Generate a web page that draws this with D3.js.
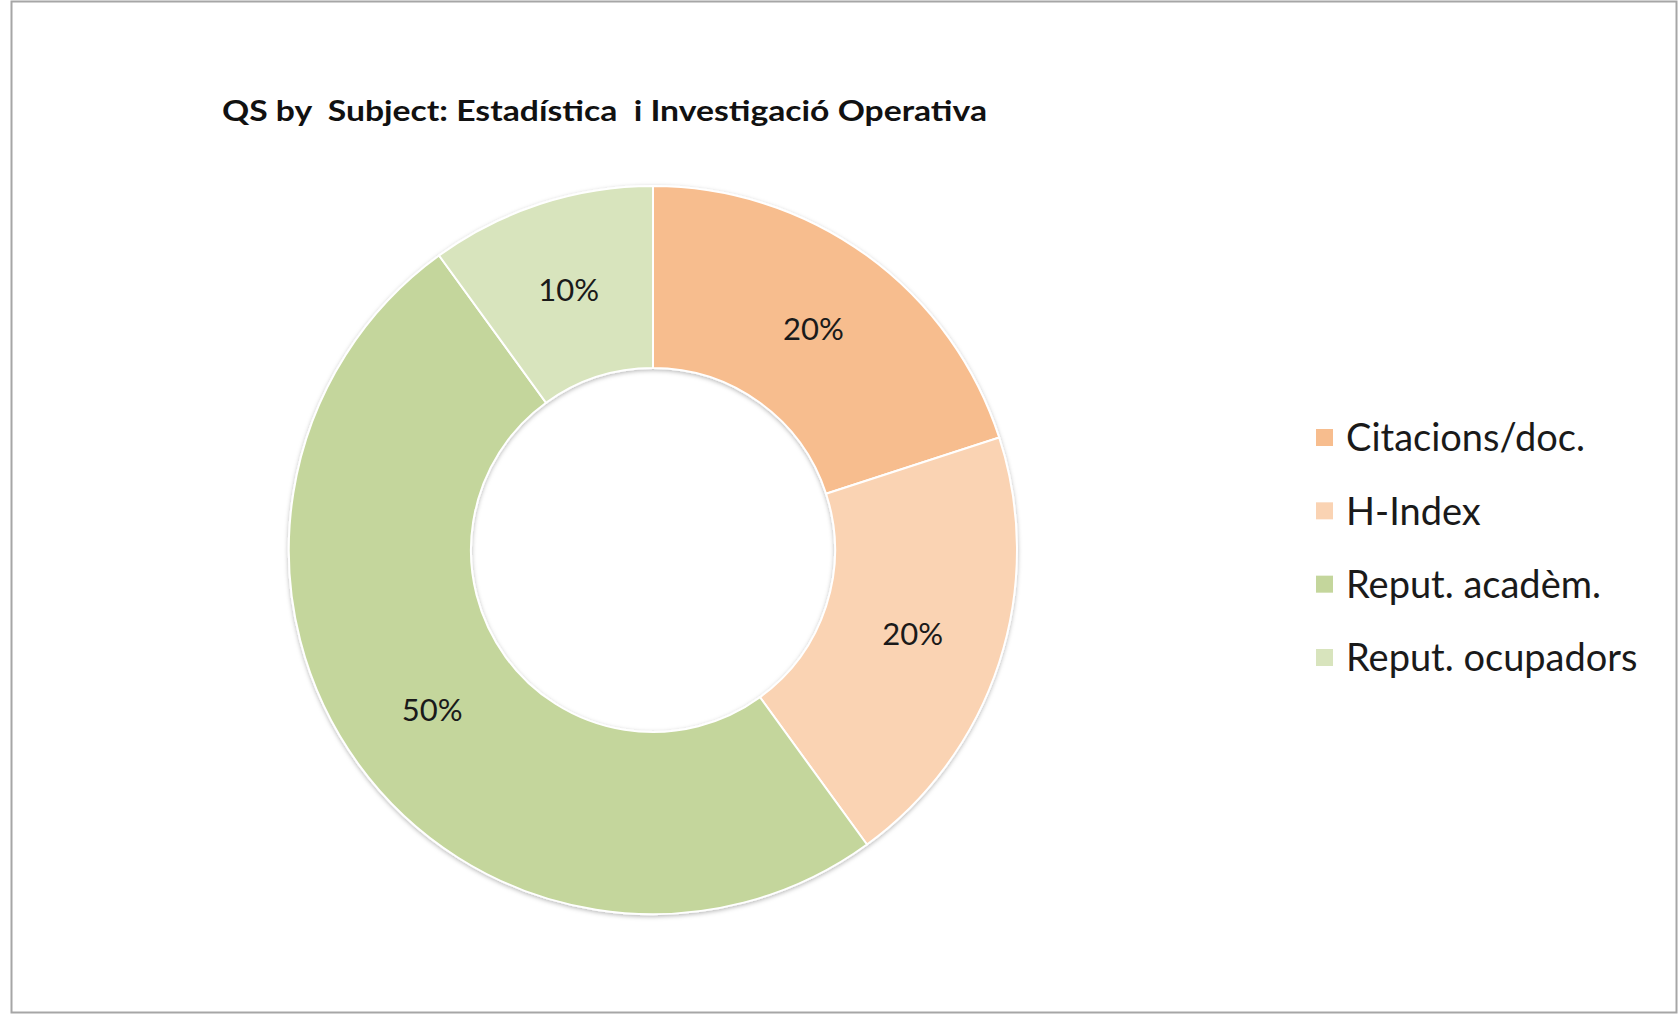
<!DOCTYPE html>
<html><head><meta charset="utf-8">
<script src="https://cdn.jsdelivr.net/npm/d3@7"></script>
<style>html,body{margin:0;padding:0;background:#fff;}svg{display:block;}</style>
</head><body>
<script>
const title = "QS by  Subject: Estadística  i Investigació Operativa";
const categories = ["Citacions/doc.", "H-Index", "Reput. acadèm.", "Reput. ocupadors"];
const values = [20, 20, 50, 10];
const colors = ["#F7BD8E", "#FAD3B3", "#C4D69C", "#D8E4BD"];

const W = 1680, H = 1016;
const svg = d3.select("body").append("svg").attr("width", W).attr("height", H);
const font = "Lato, 'Open Sans', sans-serif";

svg.append("rect").attr("x", 11.5).attr("y", 1.5).attr("width", 1665).attr("height", 1011)
  .attr("fill", "#fff").attr("stroke", "#a6a6a6").attr("stroke-width", 2);

const defs = svg.append("defs");
const f = defs.append("filter").attr("id", "sh").attr("x", "-10%").attr("y", "-10%").attr("width", "120%").attr("height", "120%");
f.append("feDropShadow").attr("dx", 0).attr("dy", 1.5).attr("stdDeviation", 2).attr("flood-color", "#000").attr("flood-opacity", 0.28);

svg.append("text").attr("x", 222).attr("y", 121).attr("font-family", font).attr("font-weight", "bold")
  .attr("font-size", 29).attr("fill", "#111").attr("xml:space", "preserve").style("white-space", "pre")
  .attr("textLength", 765).attr("lengthAdjust", "spacingAndGlyphs").text(title);

const cx = 653, cy = 550, R = 364, r = 182;
const pie = d3.pie().value(d => d).sort(null);
const arc = d3.arc().innerRadius(r).outerRadius(R);
const g = svg.append("g").attr("transform", `translate(${cx},${cy})`);
const arcs = pie(values);
g.append("g").attr("filter", "url(#sh)").selectAll("path").data(arcs).join("path")
  .attr("d", arc).attr("fill", (d, i) => colors[i]).attr("stroke", "#fff").attr("stroke-width", 2);
g.selectAll("text").data(arcs).join("text")
  .attr("transform", d => `translate(${arc.centroid(d)})`)
  .attr("text-anchor", "middle").attr("dy", "0.35em")
  .attr("font-family", font).attr("font-size", 31).attr("fill", "#1a1a1a")
  .text(d => d.value + "%");

const lg = svg.append("g");
const ly = d3.scalePoint().domain(categories).range([438, 658]);
lg.selectAll("rect").data(categories).join("rect")
  .attr("x", 1316).attr("y", d => ly(d) - 9).attr("width", 17).attr("height", 17)
  .attr("fill", (d, i) => colors[i]);
lg.selectAll("text").data(categories).join("text")
  .attr("x", 1346).attr("y", d => ly(d)).attr("dy", "0.35em")
  .attr("font-family", font).attr("font-size", 38).attr("fill", "#1a1a1a")
  .text(d => d);
</script>
</body></html>
